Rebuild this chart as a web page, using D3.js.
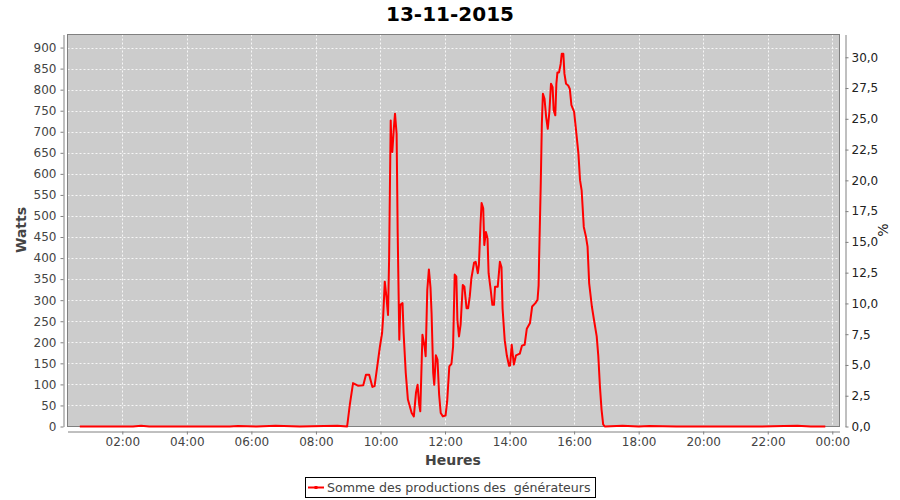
<!DOCTYPE html>
<html><head><meta charset="utf-8">
<script src="https://cdn.jsdelivr.net/npm/d3@7"></script>
<style>body{margin:0;background:#fff}svg{display:block;font-family:"DejaVu Sans",sans-serif}</style>
</head><body>
<svg id="chart" width="900" height="500"></svg>
<script>
// ---- data ----
const chartTitle = "13-11-2015";
const seriesName = "Somme des productions des  générateurs";
const times = [
"00:41","01:30","02:20","02:35","02:50","03:40","04:30","05:20","05:35","06:10","06:45","07:30","08:15","08:40","08:58",
"09:03","09:09","09:18","09:28","09:33","09:39","09:45","09:49","09:54","09:59",
"10:03","10:05","10:08","10:11","10:14","10:16","10:19","10:20","10:22","10:25","10:27","10:30","10:32","10:35","10:37","10:41","10:43","10:47","10:51","10:58",
"11:02","11:06","11:09","11:12","11:14","11:18","11:22","11:24","11:27","11:30","11:33","11:35","11:38","11:40","11:43","11:46","11:49","11:52","11:56",
"12:01","12:04","12:08","12:12","12:15","12:18","12:21","12:23","12:26","12:29","12:33","12:36","12:40","12:43","12:46","12:49","12:54","12:57",
"13:01","13:03","13:06","13:08","13:11","13:13","13:16","13:19","13:21","13:25","13:28","13:31","13:33","13:38","13:42","13:45","13:47","13:51","13:55","13:59",
"14:01","14:04","14:08","14:12","14:19","14:23","14:28","14:32","14:38","14:42","14:48","14:52","14:54","14:55","14:58",
"15:00","15:02","15:05","15:08","15:11","15:14","15:17","15:20","15:22","15:25","15:27","15:29","15:32","15:35","15:37","15:40","15:42","15:45","15:49","15:52","15:55",
"16:00","16:03","16:08","16:11","16:14","16:18","16:22","16:25","16:28","16:33","16:37","16:42","16:45","16:48","16:51","16:54","16:57",
"17:30","18:00","18:20","19:10","20:00","20:50","21:40","22:30","22:55","23:20","23:47"
];
const watts = [
0,0,0,2,0,0,0,0,1,0,2,0,1,2,0,
52,103,97,98,123,123,94,96,143,190,
222,261,344,309,265,395,727,687,652,711,743,695,459,206,289,293,222,127,64,32,
24,80,99,52,36,218,190,167,324,373,330,269,127,99,169,159,76,32,24,
26,60,143,149,190,361,356,253,214,242,336,332,281,281,309,352,389,391,
364,384,482,531,518,431,462,447,364,324,289,289,332,332,391,378,280,205,168,144,
145,194,147,169,173,192,194,232,246,285,293,301,335,403,577,
719,790,778,735,707,747,814,806,751,739,814,841,841,861,885,885,838,814,810,802,763,
747,711,648,585,561,474,451,427,340,285,253,214,167,95,40,5,0,
2,0,1,0,0,0,0,1,2,0,0
];
const xTicks = ["02:00","04:00","06:00","08:00","10:00","12:00","14:00","16:00","18:00","20:00","22:00","24:00"];
const yTicks = [0,50,100,150,200,250,300,350,400,450,500,550,600,650,700,750,800,850,900];
const pctTicks = [0,2.5,5,7.5,10,12.5,15,17.5,20,22.5,25,27.5,30];
const xLabel = "Heures", yLabel = "Watts", y2Label = "%";

// ---- layout ----
const P = {l:67.5, r:839.5, t:34.5, b:426.5};
const svg = d3.select("#chart");
const toDate = s => { const [h,m] = s.split(":").map(Number); return new Date(2015,10,13,h,m); };

const x = d3.scaleTime().domain([new Date(2015,10,13,0,18,7), new Date(2015,10,14,0,13,24)]).range([P.l,P.r]);
const y = d3.scaleLinear().domain([0,931]).range([P.b,P.t]);
const y2 = d3.scaleLinear().domain([0,31.85]).range([P.b,P.t]);

// title
svg.append("text").attr("x",450).attr("y",20.5).attr("text-anchor","middle")
  .attr("font-size",20).attr("font-weight","bold").attr("fill","#000").text(chartTitle);

// plot background
svg.append("rect").attr("x",P.l).attr("y",P.t).attr("width",P.r-P.l).attr("height",P.b-P.t).attr("fill","#cccccc");

// grid
const g = svg.append("g").attr("stroke","#ffffff").attr("stroke-width",1).attr("stroke-dasharray","2,2").attr("opacity",0.85);
yTicks.forEach(v => { const yy = Math.round(y(v))+0.5; g.append("line").attr("x1",P.l).attr("x2",P.r).attr("y1",yy).attr("y2",yy); });
xTicks.map(toDate).forEach(d => { const xx = Math.round(x(d))+0.5; g.append("line").attr("x1",xx).attr("x2",xx).attr("y1",P.t).attr("y2",P.b); });

// plot outline
svg.append("rect").attr("x",P.l).attr("y",P.t).attr("width",P.r-P.l).attr("height",P.b-P.t)
  .attr("fill","none").attr("stroke","#808080").attr("stroke-width",1);

// series
const data = times.map((t,i) => ({d: toDate(t), v: watts[i]}));
svg.append("path").datum(data)
  .attr("fill","none").attr("stroke","#ff0000").attr("stroke-width",2).attr("stroke-linejoin","round")
  .attr("d", d3.line().x(p => x(p.d)).y(p => y(p.v)));

function styleAxis(sel, color){
  sel.select(".domain").attr("stroke","#808080");
  sel.selectAll(".tick line").attr("stroke","#808080");
  sel.selectAll(".tick text").attr("fill",color).attr("font-size",12).attr("font-family","DejaVu Sans, sans-serif");
}

// left axis
const ay = svg.append("g").attr("transform","translate(63.5,0)")
  .call(d3.axisLeft(y).tickValues(yTicks).tickSize(3).tickSizeOuter(0).tickPadding(4).tickFormat(d3.format("d")));
styleAxis(ay,"#444");

// right axis
const ay2 = svg.append("g").attr("transform","translate(845.5,0)")
  .call(d3.axisRight(y2).tickValues(pctTicks).tickSize(3).tickSizeOuter(0).tickPadding(3)
    .tickFormat(v => d3.format(".1f")(v).replace(".",",")));
styleAxis(ay2,"#222");

// bottom axis
const ax = svg.append("g").attr("transform","translate(0,431.5)")
  .call(d3.axisBottom(x).tickValues(xTicks.map(toDate)).tickSize(3).tickSizeOuter(0).tickPadding(3)
    .tickFormat(d3.timeFormat("%H:%M")));
styleAxis(ax,"#444");

// axis labels
svg.append("text").attr("x",453).attr("y",465).attr("text-anchor","middle")
  .attr("font-size",14).attr("font-weight","bold").attr("fill","#444").text(xLabel);
svg.append("text").attr("transform","translate(25.5,230) rotate(-90)").attr("text-anchor","middle")
  .attr("font-size",14).attr("font-weight","bold").attr("fill","#444").text(yLabel);
svg.append("text").attr("transform","translate(887.5,230) rotate(-90)").attr("text-anchor","middle")
  .attr("font-size",14).attr("fill","#222").text(y2Label);

// legend
const lg = svg.append("g");
lg.append("rect").attr("x",305.5).attr("y",477.5).attr("width",290).attr("height",20)
  .attr("fill","#fff").attr("stroke","#000").attr("stroke-width",1);
lg.append("line").attr("x1",308).attr("x2",324).attr("y1",487.5).attr("y2",487.5).attr("stroke","#ff0000").attr("stroke-width",2);
lg.append("rect").attr("x",314.5).attr("y",486).attr("width",3).attr("height",3).attr("fill","#ff0000");
lg.append("text").attr("x",327).attr("y",492).attr("font-size",12.6).attr("fill","#444")
  .attr("xml:space","preserve").style("white-space","pre").text(seriesName);
</script>
</body></html>
